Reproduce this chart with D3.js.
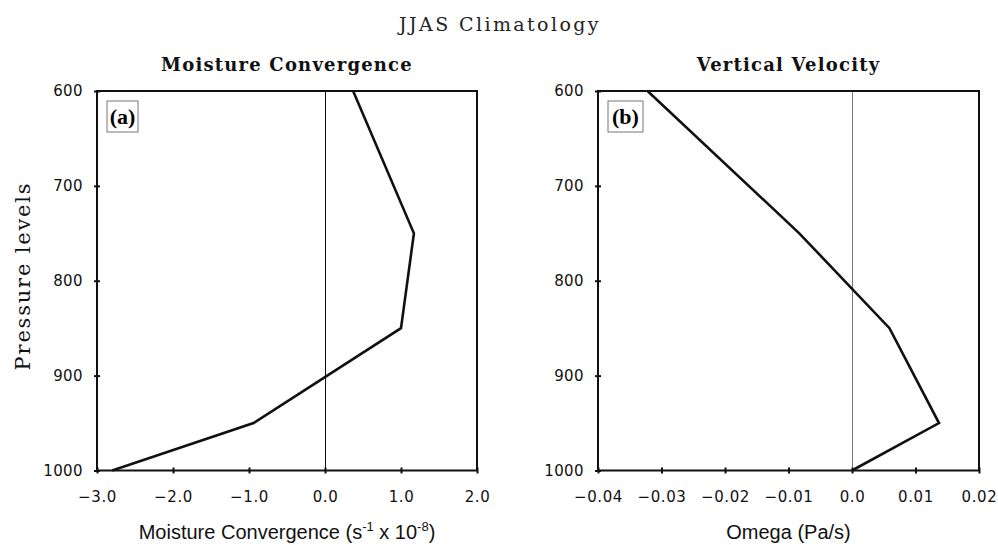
<!DOCTYPE html>
<html>
<head>
<meta charset="utf-8">
<script src="https://cdn.jsdelivr.net/npm/d3@7"></script>
<style>
  body { margin: 0; background: #fff; }
</style>
</head>
<body>
<div id="chart"></div>
<script>
const levels = [600, 750, 850, 950, 1000];
const moistConv = [0.37, 1.17, 1.0, -0.94, -2.8];
const omega = [-0.0322, -0.0083, 0.0059, 0.0137, 0.0];

const pressureTicks = [600, 700, 800, 900, 1000];
const mcTicks = [-3, -2, -1, 0, 1, 2];
const mcTickLabels = ["\u22123.0", "\u22122.0", "\u22121.0", "0.0", "1.0", "2.0"];
const omTicks = [-0.04, -0.03, -0.02, -0.01, 0, 0.01, 0.02];
const omTickLabels = ["\u22120.04", "\u22120.03", "\u22120.02", "\u22120.01", "0.0", "0.01", "0.02"];

const W = 998, H = 545;
const plotTop = 91, plotBottom = 470.5;

const svg = d3.select("#chart")
    .append("svg")
    .attr("width", W)
    .attr("height", H);

//Main title
svg.append("text")
    .attr("x", 500)
    .attr("y", 31)
    .attr("text-anchor", "middle")
    .style("font-family", "DejaVu Serif")
    .style("font-size", "19px")
    .style("letter-spacing", "2.4px")
    .attr("fill", "#222")
    .text("JJAS Climatology");

//Y axis label
svg.append("text")
    .attr("transform", "rotate(-90)")
    .attr("x", -276)
    .attr("y", 30)
    .attr("text-anchor", "middle")
    .style("font-family", "DejaVu Serif")
    .style("font-size", "21px")
    .style("letter-spacing", "1.8px")
    .attr("fill", "#111")
    .text("Pressure levels");

const yScale = d3.scaleLinear()
    .domain([600, 1000])
    .range([plotTop, plotBottom]);

function panel(opts) {
    const x = d3.scaleLinear()
        .domain(opts.domain)
        .range([opts.left, opts.right]);

    const g = svg.append("g");

    //Zero line
    g.append("line")
        .attr("x1", x(0) + 0.5).attr("x2", x(0) + 0.5)
        .attr("y1", plotTop).attr("y2", plotBottom)
        .attr("stroke", opts.zeroColor)
        .attr("stroke-width", 1);

    //Frame
    g.append("rect")
        .attr("x", opts.left)
        .attr("y", plotTop)
        .attr("width", opts.right - opts.left)
        .attr("height", plotBottom - plotTop)
        .attr("fill", "none")
        .attr("stroke", "#111")
        .attr("stroke-width", 2);

    //X axis
    const xAxis = g.append("g")
        .attr("transform", `translate(0,${plotBottom})`)
        .call(d3.axisBottom(x)
            .tickValues(opts.ticks)
            .tickSize(3)
            .tickPadding(18)
            .tickFormat((d, i) => opts.tickLabels[i]));
    xAxis.select(".domain").remove();
    xAxis.selectAll(".tick line")
        .attr("y1", -3).attr("y2", 3)
        .attr("stroke", "#111").attr("stroke-width", 2);
    xAxis.selectAll(".tick text")
        .style("font-family", "DejaVu Sans")
        .style("font-size", "15px")
        .style("letter-spacing", "0.6px")
        .attr("fill", "#111");

    //Y axis
    const yAxis = g.append("g")
        .attr("transform", `translate(${opts.left},0)`)
        .call(d3.axisLeft(yScale)
            .tickValues(pressureTicks)
            .tickSize(3)
            .tickPadding(11)
            .tickFormat(d3.format("d")));
    yAxis.select(".domain").remove();
    yAxis.selectAll(".tick line")
        .attr("x1", -3).attr("x2", 3)
        .attr("stroke", "#111").attr("stroke-width", 2);
    yAxis.selectAll(".tick text")
        .style("font-family", "DejaVu Sans")
        .style("font-size", "15px")
        .style("letter-spacing", "0.4px")
        .attr("fill", "#111");

    //Profile line
    const line = d3.line()
        .x((d, i) => x(opts.values[i]))
        .y(d => yScale(d));

    g.append("path")
        .datum(levels)
        .attr("fill", "none")
        .attr("stroke", "#111")
        .attr("stroke-width", 2.6)
        .attr("stroke-linejoin", "miter")
        .attr("d", line);

    //Panel title
    const cx = (opts.left + opts.right) / 2;
    g.append("text")
        .attr("x", cx)
        .attr("y", 71)
        .attr("text-anchor", "middle")
        .style("font-family", "DejaVu Serif")
        .style("font-weight", "bold")
        .style("font-size", "18px")
        .style("letter-spacing", "1.2px")
        .attr("fill", "#111")
        .text(opts.title);

    //Axis label
    g.append("text")
        .attr("x", cx)
        .attr("y", 539)
        .attr("text-anchor", "middle")
        .style("font-family", "Liberation Sans")
        .style("font-size", "20px")
        .attr("fill", "#111")
        .html(opts.xLabel);

    //Panel letter box
    g.append("rect")
        .attr("x", opts.left + 10)
        .attr("y", 101)
        .attr("width", opts.boxW)
        .attr("height", 31)
        .attr("fill", "#fff")
        .attr("stroke", "#777")
        .attr("stroke-width", 1);

    g.append("text")
        .attr("x", opts.left + 10 + opts.boxW / 2)
        .attr("y", 124)
        .attr("text-anchor", "middle")
        .style("font-family", "Liberation Serif")
        .style("font-weight", "bold")
        .style("font-size", "22px")
        .text(opts.letter);
}

panel({
    left: 97, right: 477,
    domain: [-3, 2],
    ticks: mcTicks,
    tickLabels: mcTickLabels,
    values: moistConv,
    zeroColor: "#111",
    title: "Moisture Convergence",
    xLabel: "Moisture Convergence (s<tspan dy='-8' font-size='13'>-1</tspan><tspan dy='8'> x 10</tspan><tspan dy='-8' font-size='13'>-8</tspan><tspan dy='8'>)</tspan>",
    letter: "(a)",
    boxW: 31
});

panel({
    left: 598, right: 979,
    domain: [-0.04, 0.02],
    ticks: omTicks,
    tickLabels: omTickLabels,
    values: omega,
    zeroColor: "#777",
    title: "Vertical Velocity",
    xLabel: "Omega (Pa/s)",
    letter: "(b)",
    boxW: 35
});
</script>
</body>
</html>
